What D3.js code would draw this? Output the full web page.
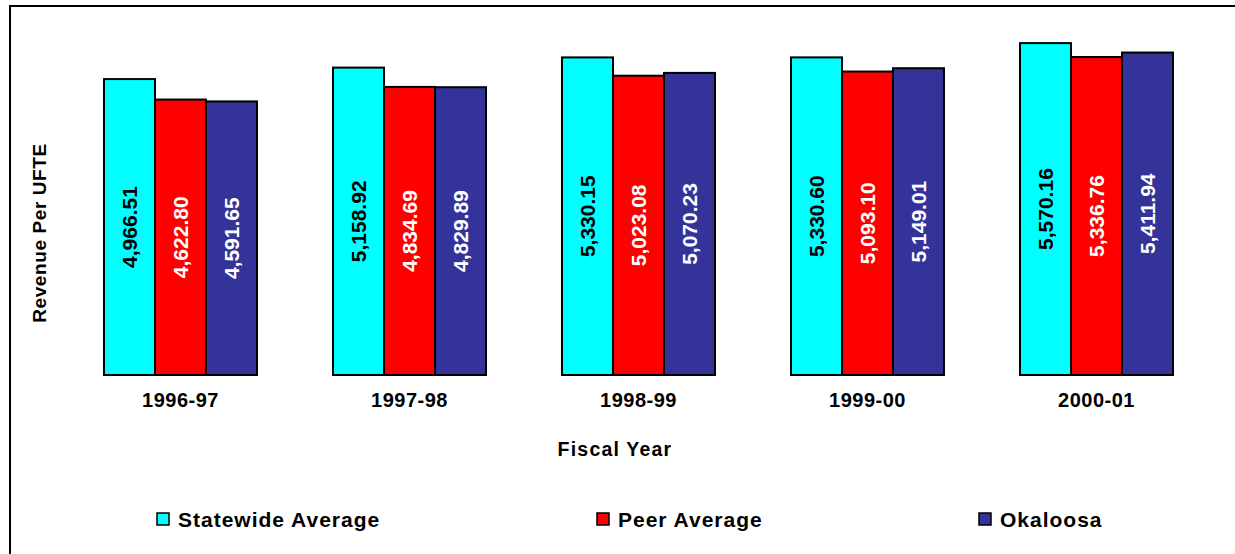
<!DOCTYPE html>
<html>
<head>
<meta charset="utf-8">
<script src="https://cdn.jsdelivr.net/npm/d3@7"></script>
<style>
  html, body { margin: 0; padding: 0; background: #fff; }
  svg { display: block; font-family: Arial, "Liberation Sans", sans-serif; font-weight: bold; }
</style>
</head>
<body>
<svg id="chart" width="1235" height="554"></svg>
<script>
// Revenue per UFTE by fiscal year
const fiscalYears = ["1996-97", "1997-98", "1998-99", "1999-00", "2000-01"];
const seriesNames = ["Statewide Average", "Peer Average", "Okaloosa"];
const statewide = [4966.51, 5158.92, 5330.15, 5330.60, 5570.16];
const peer      = [4622.80, 4834.69, 5023.08, 5093.10, 5336.76];
const okaloosa  = [4591.65, 4829.89, 5070.23, 5149.01, 5411.94];
const seriesColors = ["#00FFFF", "#FF0000", "#333399"];
const labelColors  = ["#000000", "#FFFFFF", "#FFFFFF"];
const yDomainMax = 6000;

const seriesValues = [statewide, peer, okaloosa];
const svg = d3.select("#chart");

// outer frame
svg.append("rect")
  .attr("x", 10).attr("y", 6)
  .attr("width", 1240).attr("height", 560)
  .attr("fill", "#fff").attr("stroke", "#000").attr("stroke-width", 2);

const x0 = d3.scaleBand()
  .domain(fiscalYears)
  .range([66, 1211])
  .paddingInner(0.332)
  .paddingOuter(0.166);

const x1 = d3.scaleBand()
  .domain(seriesNames)
  .range([0, x0.bandwidth()]);

const y = d3.scaleLinear()
  .domain([0, yDomainMax])
  .range([375, 17.5]);

const rows = fiscalYears.map((fy, i) => ({
  fy,
  vals: seriesNames.map((s, j) => ({ s, j, v: seriesValues[j][i] }))
}));

const groups = svg.append("g").selectAll("g")
  .data(rows).join("g")
  .attr("transform", d => `translate(${x0(d.fy)},0)`);

groups.selectAll("rect")
  .data(d => d.vals).join("rect")
  .attr("x", d => x1(d.s))
  .attr("y", d => y(d.v))
  .attr("width", x1.bandwidth())
  .attr("height", d => y(0) - y(d.v))
  .attr("fill", d => seriesColors[d.j])
  .attr("stroke", "#000")
  .attr("stroke-width", 2);

const fmt = d3.format(",.2f");
groups.selectAll("text")
  .data(d => d.vals).join("text")
  .attr("transform", d => {
    const cx = x1(d.s) + x1.bandwidth() / 2;
    const cy = (y(d.v) + y(0)) / 2;
    return `translate(${cx},${cy}) rotate(-90)`;
  })
  .attr("text-anchor", "middle")
  .attr("dominant-baseline", "central")
  .attr("font-size", 21)
  .attr("fill", d => labelColors[d.j])
  .text(d => fmt(d.v));

// category axis labels
const xAxis = d3.axisBottom(x0).tickSize(0).tickPadding(0);
const gx = svg.append("g")
  .attr("transform", "translate(0,389)")
  .call(xAxis);
gx.select(".domain").remove();
gx.selectAll("text")
  .attr("font-family", "Arial, 'Liberation Sans', sans-serif")
  .attr("font-weight", "bold")
  .attr("font-size", 20)
  .attr("letter-spacing", 0.5)
  .attr("fill", "#000")
  .attr("dy", "0.9em");

// axis titles
svg.append("text")
  .attr("x", 615).attr("y", 456)
  .attr("text-anchor", "middle")
  .attr("font-size", 19.5)
  .attr("letter-spacing", 1.2)
  .text("Fiscal Year");

svg.append("text")
  .attr("transform", "translate(46,233) rotate(-90)")
  .attr("text-anchor", "middle")
  .attr("font-size", 19)
  .attr("letter-spacing", 0.6)
  .text("Revenue Per UFTE");

// legend
const legendX = [157, 597, 979];
const legend = svg.append("g").selectAll("g")
  .data(seriesNames).join("g")
  .attr("transform", (d, i) => `translate(${legendX[i]},513)`);
legend.append("rect")
  .attr("width", 12).attr("height", 12)
  .attr("fill", (d, i) => seriesColors[i])
  .attr("stroke", "#000").attr("stroke-width", 1.5);
legend.append("text")
  .attr("x", 21).attr("y", 14)
  .attr("font-size", 21)
  .attr("letter-spacing", 1)
  .text(d => d);
</script>
</body>
</html>
